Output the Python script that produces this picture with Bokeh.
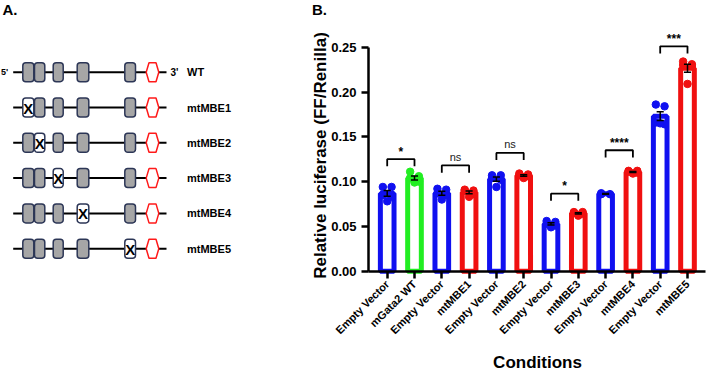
import numpy as np
from bokeh.plotting import figure
from bokeh.models import Range1d, FixedTicker, LinearAxis
from bokeh.core.properties import value
from bokeh.embed import file_html
from bokeh.resources import INLINE

# ---------------- data ----------------
categories = ["Empty Vector", "mGata2 WT", "Empty Vector", "mtMBE1", "Empty Vector", "mtMBE2",
              "Empty Vector", "mtMBE3", "Empty Vector", "mtMBE4", "Empty Vector", "mtMBE5"]
rep_ev1 = [0.094, 0.094, 0.085, 0.083, 0.078]
rep_wt = [0.111, 0.106, 0.104, 0.100, 0.099]
rep_ev2 = [0.092, 0.091, 0.087, 0.085, 0.080]
rep_mbe1 = [0.091, 0.090, 0.090, 0.086, 0.083]
rep_ev3 = [0.107, 0.107, 0.104, 0.102, 0.094]
rep_mbe2 = [0.109, 0.108, 0.107, 0.106, 0.104]
rep_ev4 = [0.056, 0.055, 0.053, 0.051, 0.049]
rep_mbe3 = [0.066, 0.066, 0.065, 0.064, 0.062]
rep_ev5 = [0.087, 0.086, 0.086]
rep_mbe4 = [0.112, 0.112, 0.111, 0.110, 0.109]
rep_ev6 = [0.186, 0.184, 0.166, 0.164, 0.165]
rep_mbe5 = [0.234, 0.231, 0.230, 0.229, 0.209]
replicates = [rep_ev1, rep_wt, rep_ev2, rep_mbe1, rep_ev3, rep_mbe2,
              rep_ev4, rep_mbe3, rep_ev5, rep_mbe4, rep_ev6, rep_mbe5]

sig_left = [0, 2, 4, 6, 8, 10]
sig_right = [1, 3, 5, 7, 9, 11]
sig_text = ["*", "ns", "ns", "*", "****", "***"]
sig_height = [0.125, 0.118, 0.132, 0.0865, 0.135, 0.251]

y_ticks = [0.0, 0.05, 0.10, 0.15, 0.20, 0.25]

constructs = ["WT", "mtMBE1", "mtMBE2", "mtMBE3", "mtMBE4", "mtMBE5"]
mutated_box = [-1, 0, 1, 2, 3, 4]

# ---------------- style / layout ----------------
BLUE, GREEN, RED = "#1010f0", "#22ee22", "#f01010"
bar_colors = [BLUE, GREEN, BLUE, RED, BLUE, RED, BLUE, RED, BLUE, RED, BLUE, RED]
JITTER = [-0.16, 0.16, -0.16, 0.16, 0.0]
FONT = "Liberation Sans"

W, H = 708, 371
PAGE_L, PAGE_T = 0, 0
# panel B placement (canvas pixels)
B_X0, B_DX = 386.7, 27.3          # x of first category, spacing
B_Y0, B_Y25 = 270.7, 46.7         # y of 0.00 and 0.25
B_KY = (B_Y0 - B_Y25) / 0.25
AX_LEFT, AX_RIGHT = 368.0, 705.0

def bx(page_x):
    return (page_x - B_X0) / B_DX

def by(page_y):
    return (B_Y0 - page_y) / B_KY

p = figure(width=W, height=H, output_backend="svg", toolbar_location=None,
           x_range=Range1d(PAGE_L, PAGE_L + W), y_range=Range1d(PAGE_T + H, PAGE_T),
           x_axis_location=None, y_axis_location=None,
           min_border_left=0, min_border_right=0, min_border_top=0, min_border_bottom=0)
p.outline_line_color = None
p.grid.visible = False
p.extra_x_ranges = {"b": Range1d(bx(PAGE_L), bx(PAGE_L + W))}
p.extra_y_ranges = {"b": Range1d(by(PAGE_T + H), by(PAGE_T))}

# ---------------- panel B ----------------
means = [float(np.mean(r)) for r in replicates]
sems = [float(np.std(r, ddof=1) / np.sqrt(len(r))) for r in replicates]
xs = list(range(len(categories)))
B = dict(x_range_name="b", y_range_name="b")

p.vbar(x=xs, top=means, width=0.5, bottom=0, fill_color="white",
       line_color=bar_colors, line_width=5, **B)

px, py, pc = [], [], []
for i, r in enumerate(replicates):
    for k, v in enumerate(r):
        px.append(i + JITTER[k % len(JITTER)])
        py.append(v)
        pc.append(bar_colors[i])
p.scatter(x=px, y=py, size=7.5, fill_color=pc, line_color=pc, **B)

lo = [m - s for m, s in zip(means, sems)]
hi = [m + s for m, s in zip(means, sems)]
p.segment(x0=xs, y0=lo, x1=xs, y1=hi, line_color="black", line_width=1.5, **B)
p.segment(x0=[x - 0.13 for x in xs], y0=lo, x1=[x + 0.13 for x in xs], y1=lo,
          line_color="black", line_width=1.5, **B)
p.segment(x0=[x - 0.13 for x in xs], y0=hi, x1=[x + 0.13 for x in xs], y1=hi,
          line_color="black", line_width=1.5, **B)

DROP = 0.008
brx, bry = [], []
for a, b, h in zip(sig_left, sig_right, sig_height):
    brx.append([a, a, b, b])
    bry.append([h - DROP, h, h, h - DROP])
p.multi_line(xs=brx, ys=bry, line_color="black", line_width=1.8, **B)
star_idx = [i for i, t in enumerate(sig_text) if t != "ns"]
ns_idx = [i for i, t in enumerate(sig_text) if t == "ns"]
p.text(x=[(sig_left[i] + sig_right[i]) / 2 for i in star_idx],
       y=[sig_height[i] + 0.0005 for i in star_idx],
       text=[sig_text[i] for i in star_idx], text_align="center", text_baseline="bottom",
       text_font=value(FONT), text_font_size="12px", text_font_style="bold",
       text_color="black", **B)
p.text(x=[(sig_left[i] + sig_right[i]) / 2 for i in ns_idx],
       y=[sig_height[i] + 0.003 for i in ns_idx],
       text=[sig_text[i] for i in ns_idx], text_align="center", text_baseline="bottom",
       text_font=value(FONT), text_font_size="11px", text_color="#222222", **B)

xaxis = LinearAxis(x_range_name="b", y_range_name="b", fixed_location=0,
                   bounds=(bx(AX_LEFT), bx(AX_RIGHT)))
yaxis = LinearAxis(x_range_name="b", y_range_name="b", fixed_location=bx(AX_LEFT),
                   bounds=(0, 0.25))
for ax in (xaxis, yaxis):
    ax.axis_line_width = 2.5
    ax.major_tick_line_width = 2.5
    ax.major_tick_out = 7
    ax.major_tick_in = 0
    ax.minor_tick_line_color = None
    ax.major_label_text_font = FONT
    ax.major_label_text_font_style = "bold"
    ax.major_label_text_color = "black"
yaxis.ticker = FixedTicker(ticks=y_ticks)
yaxis.major_label_overrides = {t: f"{t:.2f}" for t in y_ticks}
yaxis.major_label_text_font_size = "13px"
xaxis.ticker = FixedTicker(ticks=xs)
xaxis.major_label_overrides = {i: c for i, c in enumerate(categories)}
xaxis.major_label_orientation = np.pi / 4
xaxis.major_label_text_font_size = "11px"
xaxis.major_label_standoff = 4
p.add_layout(xaxis, "below")
p.add_layout(yaxis, "left")

# axis titles and panel letter (canvas pixel coordinates)
p.text(x=[537], y=[361.5], text=["Conditions"], text_align="center", text_baseline="middle",
       text_font=value(FONT), text_font_size="17px", text_font_style="bold", text_color="black")
p.text(x=[320], y=[155], text=["Relative luciferase (FF/Renilla)"], angle=np.pi / 2,
       text_align="center", text_baseline="middle",
       text_font=value(FONT), text_font_size="17px", text_font_style="bold", text_color="black")
p.text(x=[311.5], y=[8.5], text=["B."], text_baseline="middle",
       text_font=value(FONT), text_font_size="15px", text_font_style="bold", text_color="black")

# ---------------- panel A ----------------
A_DX = 0
ROW0, ROW_STEP = 71.7, 35.3
BOXES = [(22.3, 33.3), (34.0, 44.3), (52.7, 62.7), (76.7, 88.3), (124.3, 135.0)]
HALF_H = 9.5
LINE_X = (12.7, 166.0)
HEX = (145.7, 158.3, 2.8)

row_y = [ROW0 + ROW_STEP * i for i in range(len(constructs))]
p.segment(x0=[LINE_X[0] + A_DX] * len(row_y), y0=row_y, x1=[LINE_X[1] + A_DX] * len(row_y),
          y1=row_y, line_color="black", line_width=2)

ql, qr, qt, qb_, qf = [], [], [], [], []
xl_x, xl_y = [], []
for i, y in enumerate(row_y):
    for j, (l, r) in enumerate(BOXES):
        ql.append(l + A_DX); qr.append(r + A_DX)
        qt.append(y - HALF_H); qb_.append(y + HALF_H)
        if mutated_box[i] == j:
            qf.append("white")
            xl_x.append((l + r) / 2 + A_DX); xl_y.append(y + 0.5)
        else:
            qf.append("#a6a6a6")
p.quad(left=ql, right=qr, top=qt, bottom=qb_, fill_color=qf, line_color="#2c3656",
       line_width=1.5, border_radius=3)
p.text(x=xl_x, y=xl_y, text=["X"] * len(xl_x), text_align="center", text_baseline="middle",
       text_font=value(FONT), text_font_style="bold", text_font_size="15px", text_color="black")

hx, hy = [], []
l, r, d = HEX
for y in row_y:
    hx.append([l + A_DX, l + d + A_DX, r - d + A_DX, r + A_DX, r - d + A_DX, l + d + A_DX])
    hy.append([y, y - HALF_H, y - HALF_H, y, y + HALF_H, y + HALF_H])
p.patches(xs=hx, ys=hy, fill_color="white", line_color="#ff1a1a", line_width=1.5)

p.text(x=[0.5], y=[row_y[0]], text=["5'"], text_baseline="middle",
       text_font=value(FONT), text_font_style="bold", text_font_size="9px", text_color="black")
p.text(x=[170 + A_DX], y=[row_y[0]], text=["3'"], text_baseline="middle",
       text_font=value(FONT), text_font_style="bold", text_font_size="10px", text_color="black")
p.text(x=[186.5 + A_DX] * len(row_y), y=row_y, text=constructs, text_baseline="middle",
       text_font=value(FONT), text_font_style="bold", text_font_size="11px", text_color="black")
p.text(x=[2], y=[8.5], text=["A."], text_baseline="middle",
       text_font=value(FONT), text_font_style="bold", text_font_size="15px", text_color="black")

open("out.html", "w").write(file_html(p, INLINE))
